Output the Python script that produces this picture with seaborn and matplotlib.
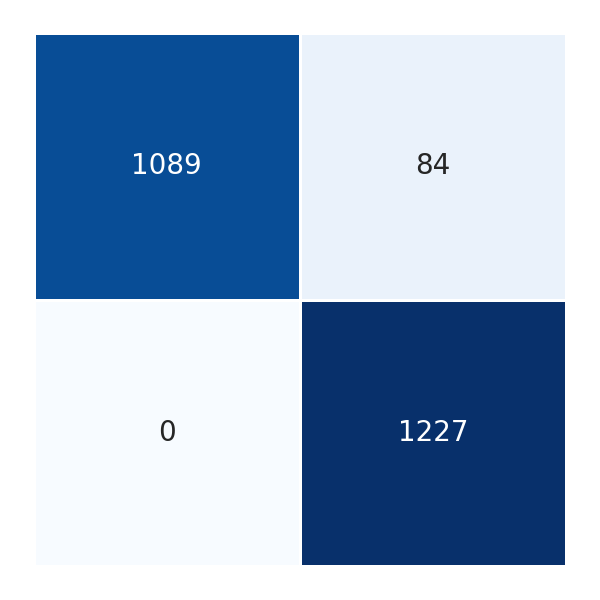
import numpy as np
import pandas as pd
import matplotlib
matplotlib.use("Agg")
import matplotlib.pyplot as plt
import seaborn as sns

sns.set()

# confusion matrix values
row_labels = ['0', '1']
col_labels = ['0', '1']
counts = [[1089, 84],
          [0, 1227]]

cm = pd.DataFrame(np.array(counts), index=row_labels, columns=col_labels)

fig = plt.figure(figsize=(6, 6), dpi=100)
ax = fig.add_axes([33.6 / 600, 33.6 / 600, 532.8 / 600, 533.8 / 600])
sns.heatmap(cm, annot=True, fmt='d', cmap='Blues', cbar=False,
            linewidths=2, linecolor='white', square=False,
            annot_kws={'fontsize': 20}, ax=ax)
ax.set_xticks([])
ax.set_yticks([])
ax.set_xlabel('')
ax.set_ylabel('')

fig.savefig('out.png', dpi=100, facecolor='white')
